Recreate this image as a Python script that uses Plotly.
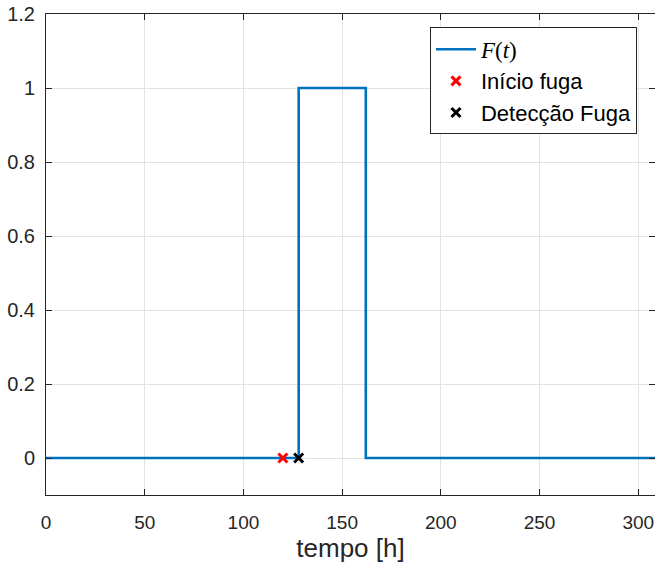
import plotly.graph_objects as go

# Leak indicator F(t): step changes (hv) at the listed times
t_steps = [0, 128, 162, 310]
f_steps = [0, 1, 0, 0]

# Event markers
t_inicio = [120]
f_inicio = [0]
t_deteccao = [128]
f_deteccao = [0]

x_ticks = [0, 50, 100, 150, 200, 250, 300]
y_ticks = [0, 0.2, 0.4, 0.6, 0.8, 1, 1.2]
y_ticklabels = ["0", "0.2", "0.4", "0.6", "0.8", "1", "1.2"]

axis_color = "#262626"
grid_color = "#e3e3e3"
font_family = "Liberation Sans, Arial, Helvetica, sans-serif"

fig = go.Figure()
fig.add_trace(go.Scatter(
    x=t_steps, y=f_steps, mode="lines", line_shape="hv",
    line=dict(color="#0072BD", width=2.6),
    name='<span style="font-family:Liberation Serif, DejaVu Serif, serif; font-size:23px"><i>F</i>(<i>t</i>)</span>',
))
fig.add_trace(go.Scatter(
    x=t_inicio, y=f_inicio, mode="markers",
    marker=dict(symbol="x-thin", size=9, line=dict(color="#FF0000", width=3)),
    name="Início fuga",
))
fig.add_trace(go.Scatter(
    x=t_deteccao, y=f_deteccao, mode="markers",
    marker=dict(symbol="x-thin", size=9, line=dict(color="#000000", width=3)),
    name="Detecção Fuga",
))

fig.update_layout(
    width=655, height=564,
    margin=dict(l=46, r=0, t=14, b=69),
    paper_bgcolor="white", plot_bgcolor="white",
    font=dict(family=font_family, size=18, color=axis_color),
    showlegend=True,
    legend=dict(
        x=0.6305, y=0.972, xanchor="left", yanchor="top",
        bgcolor="white", bordercolor=axis_color, borderwidth=1,
        font=dict(family=font_family, size=22, color="#000000"),
        itemwidth=40, tracegroupgap=0,
    ),
)
fig.update_xaxes(
    range=[0, 308.5], tickvals=x_ticks,
    showgrid=True, gridcolor=grid_color, gridwidth=1,
    showline=True, linecolor=axis_color, linewidth=1, mirror="ticks",
    ticks="inside", ticklen=6, tickcolor=axis_color,
    tickfont=dict(size=19, color=axis_color), ticklabelstandoff=10,
    zeroline=False,
    title=dict(text="tempo [h]", font=dict(size=26, color=axis_color), standoff=6),
)
fig.update_yaxes(
    range=[-0.1, 1.2], tickvals=y_ticks, ticktext=y_ticklabels,
    showgrid=True, gridcolor=grid_color, gridwidth=1,
    showline=True, linecolor=axis_color, linewidth=1, mirror="ticks",
    ticks="inside", ticklen=6, tickcolor=axis_color,
    tickfont=dict(size=20, color=axis_color), ticklabelstandoff=6,
    zeroline=False,
)

fig.write_html("out.html")
